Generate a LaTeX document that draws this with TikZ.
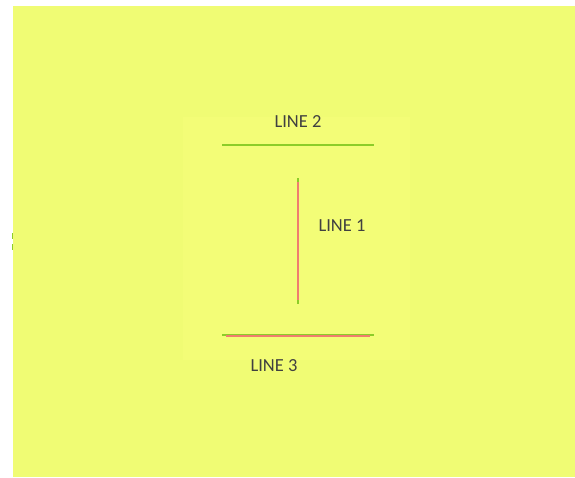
\documentclass[tikz,border=0pt]{standalone}
\usepackage{fontspec}
\setmainfont{Carlito}
\definecolor{bgyellow}{RGB}{240,252,116}
\definecolor{boxyellow}{RGB}{243,253,119}
\definecolor{linegreen}{RGB}{140,205,40}
\definecolor{linered}{RGB}{240,125,110}
\begin{document}
\begin{tikzpicture}[x=0.02cm,y=-0.02cm,
    lbl/.style={font=\fontsize{10.5}{12}\selectfont, text=black!75},
    greenline/.style={draw=linegreen, line width=1.6pt},
    redline/.style={draw=linered, line width=1pt}]
    \useasboundingbox (0,0) rectangle (575,477);
    \fill[bgyellow] (13,6) rectangle (575,477);
    \fill[boxyellow] (183,117) rectangle (410,360);
    % small marks on the left edge
    \foreach \y in {236,247}
        \fill[linegreen] (13,\y-3) rectangle (11.5,\y+3);
    % end points
    \coordinate (l2a) at (222,145);
    \coordinate (l2b) at (374,145);
    \coordinate (l1a) at (298,178);
    \coordinate (l1b) at (298,304);
    \coordinate (l3a) at (222,335);
    \coordinate (l3b) at (374,335);
    % lines
    \draw[greenline] (l2a) -- (l2b);
    \draw[greenline, line width=1.1pt] (l1a) -- (l1b);
    \draw[redline, shorten <=2pt, shorten >=2pt] (l1a) -- (l1b);
    \draw[greenline] (l3a) -- (l3b);
    \draw[redline, line width=1.1pt, shorten <=2pt, shorten >=2pt] ([yshift=-0.5pt]l3a) -- ([yshift=-0.5pt]l3b);
    % labels
    \node[lbl] (line2) at (298,122) {LINE 2};
    \node[lbl] (line1) at (342,226) {LINE 1};
    \node[lbl] (line3) at (274,366) {LINE 3};
\end{tikzpicture}
\end{document}
